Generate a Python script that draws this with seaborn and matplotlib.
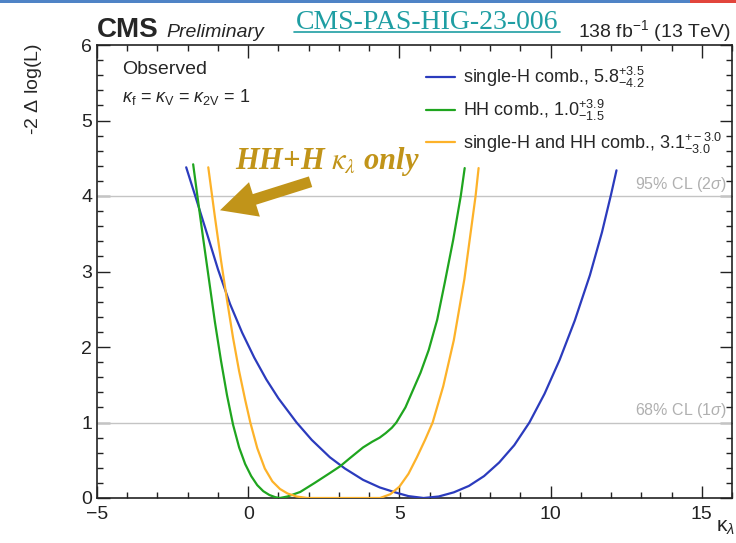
import numpy as np
import pandas as pd
import matplotlib
matplotlib.use("Agg")
import matplotlib.pyplot as plt
from matplotlib.ticker import MultipleLocator
from matplotlib.lines import Line2D
from matplotlib.patches import Rectangle
import seaborn as sns

# ---- data ----
single_h_k = [-2.05, -1.75, -1.40, -1.00, -0.60, -0.20, 0.20, 0.60, 1.00, 1.60, 2.10, 2.70, 3.20,
              3.80, 4.35, 4.90, 5.30, 5.80, 6.30, 6.80, 7.30, 7.80, 8.30, 8.80, 9.30, 9.80,
              10.30, 10.80, 11.30, 11.70, 12.00, 12.18]
single_h_y = [4.38, 4.00, 3.55, 3.03, 2.57, 2.19, 1.86, 1.57, 1.32, 1.00, 0.77, 0.54, 0.39,
              0.24, 0.14, 0.07, 0.025, 0.00, 0.02, 0.075, 0.16, 0.29, 0.47, 0.70, 1.00, 1.38,
              1.83, 2.35, 2.95, 3.52, 4.02, 4.34]

hh_k = [-1.82, -1.68, -1.50, -1.30, -1.10, -0.90, -0.70, -0.50, -0.30, -0.10, 0.10, 0.30, 0.50,
        0.70, 0.90, 1.05, 1.30, 1.72, 2.20, 2.70, 3.04, 3.37, 3.80, 4.10, 4.35, 4.55, 4.75, 4.90,
        5.20, 5.45, 5.70, 5.97, 6.25, 6.50, 6.78, 7.03, 7.16]
hh_y = [4.42, 4.00, 3.47, 2.90, 2.33, 1.82, 1.36, 0.97, 0.67, 0.45, 0.29, 0.17, 0.09,
        0.04, 0.01, 0.00, 0.02, 0.08, 0.20, 0.33, 0.42, 0.53, 0.67, 0.745, 0.80, 0.86, 0.93, 1.00,
        1.20, 1.43, 1.66, 1.96, 2.36, 2.85, 3.42, 4.00, 4.37]

comb_k = [-1.32, -1.10, -0.90, -0.70, -0.50, -0.30, -0.10, 0.07, 0.30, 0.55, 0.80, 1.05, 1.30,
          1.60, 1.95, 2.50, 3.10, 3.70, 4.36, 4.70, 5.00, 5.30, 5.58, 5.85, 6.10, 6.45, 6.80,
          7.15, 7.52, 7.62]
comb_y = [4.38, 3.72, 3.15, 2.62, 2.12, 1.68, 1.30, 1.00, 0.66, 0.39, 0.22, 0.12, 0.06,
          0.02, 0.00, 0.00, 0.00, 0.00, 0.00, 0.05, 0.15, 0.32, 0.54, 0.77, 1.00, 1.48, 2.09,
          2.90, 4.00, 4.37]

series_names = ["single-H comb., $5.8^{+3.5}_{-4.2}$",
                "HH comb., $1.0^{+3.9}_{-1.5}$",
                "single-H and HH comb., $3.1^{+-3.0}_{-3.0}$"]
series_colors = ["#2b3bbd", "#1fa51f", "#fdb229"]

cl_levels = [1.0, 4.0]
cl_labels = ["68% CL (1$\\sigma$)", "95% CL (2$\\sigma$)"]

x_limits = (-5, 16)
y_limits = (0, 6)

df = pd.concat([
    pd.DataFrame({"k": single_h_k, "nll": single_h_y, "series": series_names[0]}),
    pd.DataFrame({"k": hh_k, "nll": hh_y, "series": series_names[1]}),
    pd.DataFrame({"k": comb_k, "nll": comb_y, "series": series_names[2]}),
], ignore_index=True)

# ---- style ----
sns.set_style("white")
plt.rcParams["font.family"] = ["Liberation Sans", "DejaVu Sans"]
plt.rcParams["mathtext.fontset"] = "custom"
plt.rcParams["mathtext.rm"] = "Liberation Sans"
plt.rcParams["mathtext.it"] = "Liberation Sans:italic"
plt.rcParams["mathtext.bf"] = "Liberation Sans:bold"

W, H = 736, 543
fig = plt.figure(figsize=(W / 100, H / 100), dpi=100)
fig.patch.set_facecolor("white")
L, R, T, B = 97, 732, 45, 498
ax = fig.add_axes([L / W, 1 - B / H, (R - L) / W, (B - T) / H])


def axx(px):
    return (px - L) / (R - L)


def axy(py):
    return 1 - (py - T) / (B - T)


# CL lines
for lvl, lab in zip(cl_levels, cl_labels):
    ax.axhline(lvl, color="#c4c4c4", lw=1.0, zorder=1)
    ax.text(0.992, lvl + 0.03, lab, transform=ax.get_yaxis_transform(), ha="right", va="bottom",
            color="#b0b0b0", fontsize=11.5)

sns.lineplot(data=df, x="k", y="nll", hue="series", hue_order=series_names,
             palette=dict(zip(series_names, series_colors)), sort=False, estimator=None,
             lw=1.6, ax=ax, zorder=3)

ax.set_xlim(*x_limits)
ax.set_ylim(*y_limits)
ax.xaxis.set_major_locator(MultipleLocator(5))
ax.xaxis.set_minor_locator(MultipleLocator(1))
ax.yaxis.set_major_locator(MultipleLocator(1))
ax.yaxis.set_minor_locator(MultipleLocator(0.2))
ax.tick_params(which="both", direction="in", bottom=True, left=True, top=True, right=True,
               colors="#222222", labelsize=14, width=1.0)
ax.tick_params(which="major", length=9)
ax.tick_params(which="minor", length=4.5)
ax.tick_params(axis="x", pad=6)
for s in ax.spines.values():
    s.set_color("#222222")
    s.set_linewidth(1.2)

ax.set_xlabel("")
ax.set_ylabel("")
fig.text(33 / W, 1 - 43 / H, "-2 $\\Delta$ log(L)", rotation=90, ha="center", va="top", fontsize=14)
fig.text(726 / W, 1 - 528 / H, "$\\mathrm{\\kappa}_{\\lambda}$", ha="center", va="center",
         fontsize=15)

# legend
leg = ax.legend(loc="upper left", bbox_to_anchor=(axx(419), axy(58)),
                frameon=False, fontsize=13, handlelength=1.6, handletextpad=0.45, labelspacing=0.42,
                borderaxespad=0)
for line in leg.get_lines():
    line.set_linewidth(1.6)

# text labels in the plot
ax.text(axx(122), axy(70), "Observed", transform=ax.transAxes,
        ha="left", va="center", fontsize=14)
ax.text(axx(122), axy(97),
        "$\\kappa_{\\mathrm{f}}$ = $\\kappa_{\\mathrm{V}}$ = $\\kappa_{\\mathrm{2V}}$ = 1",
        transform=ax.transAxes, ha="left", va="center", fontsize=13)

# header
fig.text(97 / W, 1 - 37 / H, "CMS", fontsize=20, fontweight="bold", ha="left", va="baseline")
fig.text(166 / W, 1 - 37 / H, "Preliminary", fontsize=14, style="italic", ha="left", va="baseline")
fig.text(731 / W, 1 - 37 / H, "138 fb$^{-1}$ (13 TeV)", fontsize=14, ha="right", va="baseline")

teal = "#1f9ea3"
fig.text(427 / W, 1 - 29 / H, "CMS-PAS-HIG-23-006", fontsize=20, color=teal, ha="center",
         va="baseline", family=["Liberation Serif", "DejaVu Serif"])
fig.add_artist(Line2D([294 / W, 560 / W], [1 - 32 / H, 1 - 32 / H], color=teal, lw=1.2,
                      transform=fig.transFigure))

# top banner decoration
fig.add_artist(Rectangle((0, 1 - 3 / H), 690 / W, 3 / H, transform=fig.transFigure,
                         color="#4f83c6", lw=0))
fig.add_artist(Rectangle((690 / W, 1 - 3 / H), 46 / W, 3 / H, transform=fig.transFigure,
                         color="#e2453c", lw=0))

# annotation arrow
gold = "#c19419"
ax.annotate("", xy=(-1.02, 3.8), xytext=(2.15, 4.2),
            arrowprops=dict(arrowstyle="simple,head_width=1.3,head_length=1.3,tail_width=0.4",
                            color=gold, lw=0, mutation_scale=20), zorder=5)
ax.text(axx(235), axy(161), "HH+H $\\kappa_{\\lambda}$ only",
        transform=ax.transAxes, ha="left", va="center", fontsize=22, color=gold,
        family=["Liberation Serif"], fontweight="bold", style="italic",
        math_fontfamily="stix")

fig.savefig("out.png", dpi=100, facecolor="white")
